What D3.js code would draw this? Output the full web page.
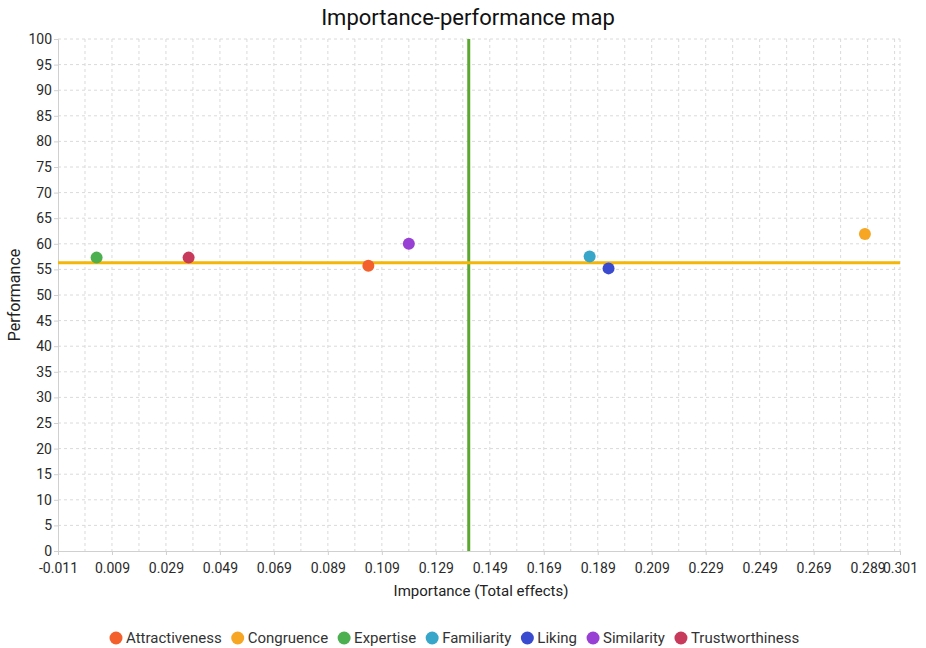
<!DOCTYPE html>
<html>
<head>
<meta charset="utf-8">
<script src="https://cdn.jsdelivr.net/npm/d3@7"></script>
<style>
  body { margin: 0; background: #fff; }
  text { font-family: Roboto, 'Liberation Sans', sans-serif; }
</style>
</head>
<body>
<svg id="chart" width="926" height="648"></svg>
<script>
// data
var constructs = ['Attractiveness','Congruence','Expertise','Familiarity','Liking','Similarity','Trustworthiness'];
var importance = [0.104, 0.288, 0.0033, 0.186, 0.193, 0.119, 0.0374];
var performance = [55.7, 61.9, 57.3, 57.5, 55.2, 60.0, 57.3];
var colors = ['#f4602c','#f6a623','#4cb050','#38a6c8','#3b4bd0','#9840d4','#c83a5c'];

var xTicks = [-0.011, 0.009, 0.029, 0.049, 0.069, 0.089, 0.109, 0.129, 0.149, 0.169, 0.189, 0.209, 0.229, 0.249, 0.269, 0.289, 0.301];
var yTicks = [0,5,10,15,20,25,30,35,40,45,50,55,60,65,70,75,80,85,90,95,100];
var meanImportance = 0.1412;
var meanPerformance = 56.3;

var svg = d3.select('#chart');
var padding = {l: 58, r: 26, t: 39, b: 97};
var width = 926, height = 648;

var x = d3.scaleLinear().domain([-0.011, 0.301]).range([padding.l, width - padding.r]);
var y = d3.scaleLinear().domain([0, 100]).range([height - padding.b, padding.t]);

// grid: vertical lines every 0.01, horizontal every 5
var xGrid = [];
xTicks.forEach(function(t, i){
    xGrid.push(t);
    if (i < xTicks.length - 2) xGrid.push(t + 0.01);
});
xGrid.push(0.299);

var gridG = svg.append('g');
gridG.selectAll('.vgrid')
    .data(xGrid.filter(function(d){ return d > -0.011; }))
    .enter().append('line')
    .attr('x1', function(d){ return x(d); })
    .attr('x2', function(d){ return x(d); })
    .attr('y1', y(100))
    .attr('y2', y(0))
    .attr('stroke', '#dadada')
    .attr('stroke-dasharray', '3,3');
gridG.selectAll('.hgrid')
    .data(yTicks.filter(function(d){ return d > 0; }))
    .enter().append('line')
    .attr('x1', x(-0.011))
    .attr('x2', x(0.301))
    .attr('y1', function(d){ return y(d); })
    .attr('y2', function(d){ return y(d); })
    .attr('stroke', '#dadada')
    .attr('stroke-dasharray', '3,3');

// axes
var xAxis = d3.axisBottom(x).tickValues(xTicks).tickSize(4).tickFormat(function(d){ return d3.format('.3f')(d).replace('−','-'); });
var yAxis = d3.axisLeft(y).tickValues(yTicks).tickSize(4).tickFormat(d3.format('d'));

var xAxisG = svg.append('g')
    .attr('transform', 'translate(0,' + y(0) + ')')
    .call(xAxis);
var yAxisG = svg.append('g')
    .attr('transform', 'translate(' + x(-0.011) + ',0)')
    .call(yAxis);

[xAxisG, yAxisG].forEach(function(g){
    g.select('.domain').attr('stroke', '#d0d0d0');
    g.selectAll('.tick line').attr('stroke', '#d0d0d0');
    g.selectAll('.tick text')
        .attr('fill', '#2a2a2a')
        .style('font-size', '14px')
        .style('font-family', 'Roboto, sans-serif');
});
xAxisG.selectAll('.tick text').attr('dy', '1.05em');
yAxisG.selectAll('.tick text').attr('x', -6);

// reference lines
svg.append('line')
    .attr('x1', x(meanImportance))
    .attr('x2', x(meanImportance))
    .attr('y1', y(100))
    .attr('y2', y(0))
    .attr('stroke', '#5aa830')
    .attr('stroke-width', 3);
svg.append('line')
    .attr('x1', x(-0.011))
    .attr('x2', x(0.301))
    .attr('y1', y(meanPerformance))
    .attr('y2', y(meanPerformance))
    .attr('stroke', '#f5b60a')
    .attr('stroke-width', 3);

// points
svg.selectAll('.pt')
    .data(constructs)
    .enter().append('circle')
    .attr('class', 'pt')
    .attr('cx', function(d, i){ return x(importance[i]); })
    .attr('cy', function(d, i){ return y(performance[i]); })
    .attr('r', 6)
    .attr('fill', function(d, i){ return colors[i]; });

// titles
svg.append('text')
    .attr('x', 468)
    .attr('y', 25)
    .attr('text-anchor', 'middle')
    .style('font-size', '22px')
    .attr('fill', '#111')
    .text('Importance-performance map');

svg.append('text')
    .attr('x', 481)
    .attr('y', 596)
    .attr('text-anchor', 'middle')
    .style('font-size', '15px')
    .attr('fill', '#222')
    .text('Importance (Total effects)');

svg.append('text')
    .attr('transform', 'translate(20,' + y(50) + ') rotate(-90)')
    .attr('text-anchor', 'middle')
    .style('font-size', '16px')
    .attr('fill', '#222')
    .text('Performance');

// legend
var legendG = svg.append('g').attr('transform', 'translate(0,638)');
var lx = 110;
constructs.forEach(function(name, i){
    var item = legendG.append('g').attr('transform', 'translate(' + lx + ',0)');
    item.append('circle').attr('cx', 6).attr('cy', 0).attr('r', 6.5).attr('fill', colors[i]);
    var t = item.append('text')
        .attr('x', 16)
        .attr('y', 5)
        .style('font-size', '15px')
        .attr('fill', '#333')
        .text(name);
    lx += 16 + t.node().getComputedTextLength() + 10;
});
</script>
</body>
</html>
